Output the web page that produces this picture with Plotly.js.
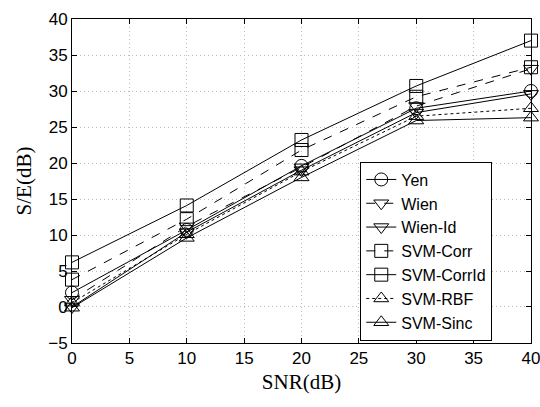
<!DOCTYPE html>
<html>
<head>
<meta charset="utf-8">
<script src="https://cdn.plot.ly/plotly-3.0.1.min.js"></script>
<style>html,body{margin:0;padding:0;background:#fff;}#chart{width:540px;height:407px;}</style>
</head>
<body>
<div id="chart"></div>
<script>
const snr = [0, 10, 20, 30, 40];
const names = ["Yen", "Wien", "Wien-Id", "SVM-Corr", "SVM-CorrId", "SVM-RBF", "SVM-Sinc"];
const yen = [2.0, 10.7, 19.6, 27.6, 30.0];
const wien = [1.0, 11.2, 19.4, 27.9, 33.1];
const wienId = [0.0, 10.4, 19.0, 27.0, 29.6];
const svmCorr = [3.8, 12.2, 21.8, 29.2, 33.3];
const svmCorrId = [6.2, 14.1, 23.2, 30.7, 37.0];
const svmRbf = [0.6, 10.1, 18.8, 26.5, 27.6];
const svmSinc = [-0.1, 9.6, 18.0, 25.9, 26.3];

const series = [yen, wien, wienId, svmCorr, svmCorrId, svmRbf, svmSinc];
const symbols = ["circle-open", "triangle-down-open", "triangle-down-open", "square-open", "square-open", "triangle-up-open", "triangle-up-open"];
const dashes = ["solid", "dash", "solid", "dash", "solid", "dot", "solid"];

const traces = series.map((ys, i) => ({
  x: snr, y: ys, name: names[i], type: "scatter", mode: "lines+markers",
  cliponaxis: false,
  line: {color: "#000", width: 1, dash: dashes[i]},
  marker: {symbol: symbols[i], size: 13, color: "#000", line: {color: "#000", width: 1}}
}));

const axisCommon = {
  showline: true, linecolor: "#000", linewidth: 1, mirror: "ticks",
  ticks: "inside", ticklen: 5, tickcolor: "#000",
  showgrid: true, gridcolor: "#bdbdbd", griddash: "1px,3px", gridwidth: 1,
  zeroline: false, ticklabeloverflow: "allow",
  tickfont: {family: "Liberation Sans, Arial, sans-serif", size: 17, color: "#000"}
};

const layout = {
  width: 540, height: 407,
  margin: {l: 72, r: 9, t: 19, b: 64},
  paper_bgcolor: "#fff", plot_bgcolor: "#fff",
  showlegend: true,
  xaxis: Object.assign({}, axisCommon, {
    range: [-0.001, 40.001], tickvals: [0,5,10,15,20,25,30,35,40],
    title: {text: "SNR(dB)", font: {family: "Liberation Serif, Times New Roman, serif", size: 21, color: "#000"}, standoff: 6}
  }),
  yaxis: Object.assign({}, axisCommon, {
    range: [-5.001, 40.001], tickvals: [-5,0,5,10,15,20,25,30,35,40],
    title: {text: "S/E(dB)", font: {family: "Liberation Serif, Times New Roman, serif", size: 21, color: "#000"}, standoff: 10}
  }),
  legend: {
    x: 0.628, y: 0.56, xanchor: "left", yanchor: "top",
    bgcolor: "#fff", bordercolor: "#000", borderwidth: 1,
    font: {family: "Liberation Sans, Arial, sans-serif", size: 16, color: "#000"},
    itemwidth: 30, tracegroupgap: 0
  }
};

Plotly.newPlot("chart", traces, layout, {displayModeBar: false, staticPlot: true});
</script>
</body>
</html>
